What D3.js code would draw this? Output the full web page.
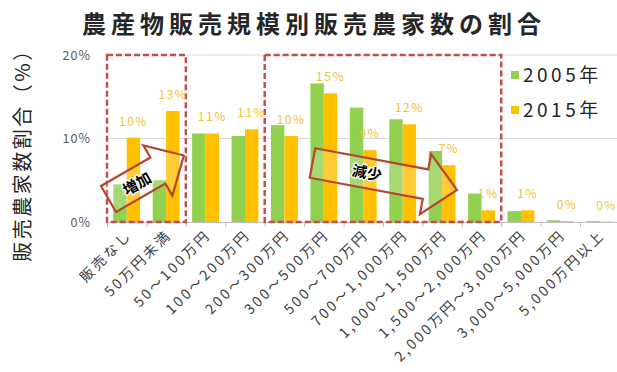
<!DOCTYPE html>
<html><head><meta charset="utf-8">
<script src="https://cdn.jsdelivr.net/npm/d3@7"></script>
<style>
body{margin:0;background:#fff;}
svg{display:block;font-family:"Noto Sans CJK JP","Noto Sans",sans-serif;}
</style>
</head><body><svg id="c" width="617" height="372"></svg>
<script>
// ---- data ----
const categories = ["販売なし","50万円未満","50～100万円","100～200万円","200～300万円","300～500万円","500～700万円","700～1,000万円","1,000～1,500万円","1,500～2,000万円","2,000万円～3,000万円","3,000～5,000万円","5,000万円以上"];
const values2005 = [4.5,5.0,10.6,10.3,11.6,16.6,13.7,12.3,8.5,3.4,1.3,0.2,0.1];
const values2015 = [10.1,13.3,10.6,11.1,10.3,15.4,8.6,11.7,6.8,1.4,1.4,0.1,0.05];
const seriesNames = ["2005年","2015年"];
const seriesColors = ["#92d050","#ffc000"];
const yTickValues = [0,10,20];
const increaseRange = ["販売なし","50万円未満"];
const decreaseRange = ["200～300万円","1,500～2,000万円"];
const titleText = "農産物販売規模別販売農家数の割合";
const yTitle = "販売農家数割合（%）";

// ---- layout ----
const svg = d3.select("#c");
const mLeft = 107, mRight = 619.5, mTop = 55, mBottom = 222;
const x = d3.scaleBand().domain(categories).range([mLeft, mRight]).padding(0);
const xs = d3.scaleBand().domain(seriesNames).range([0, x.bandwidth()]).paddingInner(0).paddingOuter(0.47);
const y = d3.scaleLinear().domain([0, 20]).range([mBottom, mTop]);

// gridlines
svg.append("g").selectAll("line").data(yTickValues.filter(d => d > 0)).join("line")
  .attr("x1", mLeft).attr("x2", 617).attr("y1", d => y(d)).attr("y2", d => y(d))
  .attr("stroke", "#d9d9d9").attr("stroke-width", 1);

// y tick labels
svg.append("g").selectAll("text").data(yTickValues).join("text")
  .attr("x", 91).attr("y", d => y(d) + 4.5)
  .attr("text-anchor", "end").attr("font-size", 12.5).attr("letter-spacing", 1)
  .attr("fill", "#595959").text(d => d + "%");

// x axis line + boundary ticks
svg.append("line").attr("x1", mLeft).attr("x2", 617).attr("y1", mBottom + 0.5).attr("y2", mBottom + 0.5)
  .attr("stroke", "#bfbfbf");
svg.append("g").selectAll("line").data(categories).join("line")
  .attr("x1", d => x(d) + 0.5).attr("x2", d => x(d) + 0.5)
  .attr("y1", mBottom).attr("y2", mBottom + 5).attr("stroke", "#bfbfbf");

// bars
const rows = categories.map((c, i) => ({c, v: [values2005[i], values2015[i]]}));
const g = svg.append("g").selectAll("g").data(rows).join("g")
  .attr("transform", d => `translate(${x(d.c)},0)`);
g.selectAll("rect").data(d => d.v.map((v, j) => ({v, s: seriesNames[j], j}))).join("rect")
  .attr("x", d => xs(d.s)).attr("width", xs.bandwidth())
  .attr("y", d => y(d.v)).attr("height", d => y(0) - y(d.v))
  .attr("fill", d => seriesColors[d.j]);

// x tick labels
svg.append("g").selectAll("text").data(categories).join("text")
  .attr("transform", d => `translate(${x(d) + x.bandwidth() / 2 + 6},236) rotate(-45)`)
  .attr("text-anchor", "end").attr("font-size", 14).attr("letter-spacing", 2.6)
  .attr("fill", "#404040").text(d => d);

// dashed boxes
function box(range) {
  const x0 = x(range[0]), x1 = x(range[1]) + x.bandwidth();
  svg.append("rect").attr("x", x0).attr("y", y(20)).attr("width", x1 - x0).attr("height", y(0) - y(20))
    .attr("fill", "none").attr("stroke", "#c0504d").attr("stroke-width", 2.5)
    .attr("stroke-dasharray", "6,3");
}
box(increaseRange);
box(decreaseRange);

// block arrows (annotations)
function arrow(tx, ty, angle, L, bw, hw, hl, label, lx, ly, la) {
  const b = bw / 2, h = hw / 2;
  const p = `M0,${-b}L${L - hl},${-b}L${L - hl},${-h}L${L},0L${L - hl},${h}L${L - hl},${b}L0,${b}Z`;
  svg.append("path").attr("d", p)
    .attr("transform", `translate(${tx},${ty}) rotate(${angle})`)
    .attr("fill", "#ffffff").attr("fill-opacity", 0.2)
    .attr("stroke", "#b8452f").attr("stroke-width", 2.2).attr("stroke-linejoin", "miter");
  svg.append("text").attr("transform", `translate(${lx},${ly}) rotate(${la})`)
    .attr("text-anchor", "middle").attr("font-size", 15).attr("font-weight", "bold")
    .attr("fill", "#000").attr("stroke", "#fff").attr("stroke-width", 2.5)
    .attr("paint-order", "stroke").attr("dy", "0.35em").text(label);
}
arrow(108.5, 199, -30, 87, 30, 58, 30, "増加", 137, 184, -30);
arrow(312.5, 163, 10.6, 147, 30, 61, 32, "減少", 367, 173, 10);

// data labels (2015)
svg.append("g").selectAll("text").data(rows).join("text")
  .attr("x", d => x(d.c) + xs(seriesNames[1]) + xs.bandwidth() / 2)
  .attr("y", d => y(d.v[1]) - 12)
  .attr("text-anchor", "middle").attr("font-size", 12).attr("letter-spacing", 1.5)
  .attr("fill", "#f5c031").text(d => Math.round(d.v[1]) + "%");

// legend
const lg = svg.append("g").selectAll("g").data(seriesNames).join("g")
  .attr("transform", (d, i) => `translate(511,${75 + i * 35})`);
lg.append("rect").attr("x", 0).attr("y", -4).attr("width", 8).attr("height", 8)
  .attr("fill", (d, i) => seriesColors[i]);
lg.append("text").attr("x", 12).attr("y", 7).attr("font-size", 19).attr("letter-spacing", 3.5)
  .attr("fill", "#262626").text(d => d);

// title
svg.append("text").attr("x", 314).attr("y", 33).attr("text-anchor", "middle")
  .attr("font-size", 24).attr("font-weight", "bold").attr("letter-spacing", 5)
  .attr("fill", "#262626").text(titleText);

// y axis title
svg.append("text").attr("transform", "translate(23,150) rotate(-90)")
  .attr("text-anchor", "middle").attr("dy", "0.35em")
  .attr("font-size", 20).attr("letter-spacing", 2.5)
  .attr("fill", "#262626").text(yTitle);
</script>
</body></html>
